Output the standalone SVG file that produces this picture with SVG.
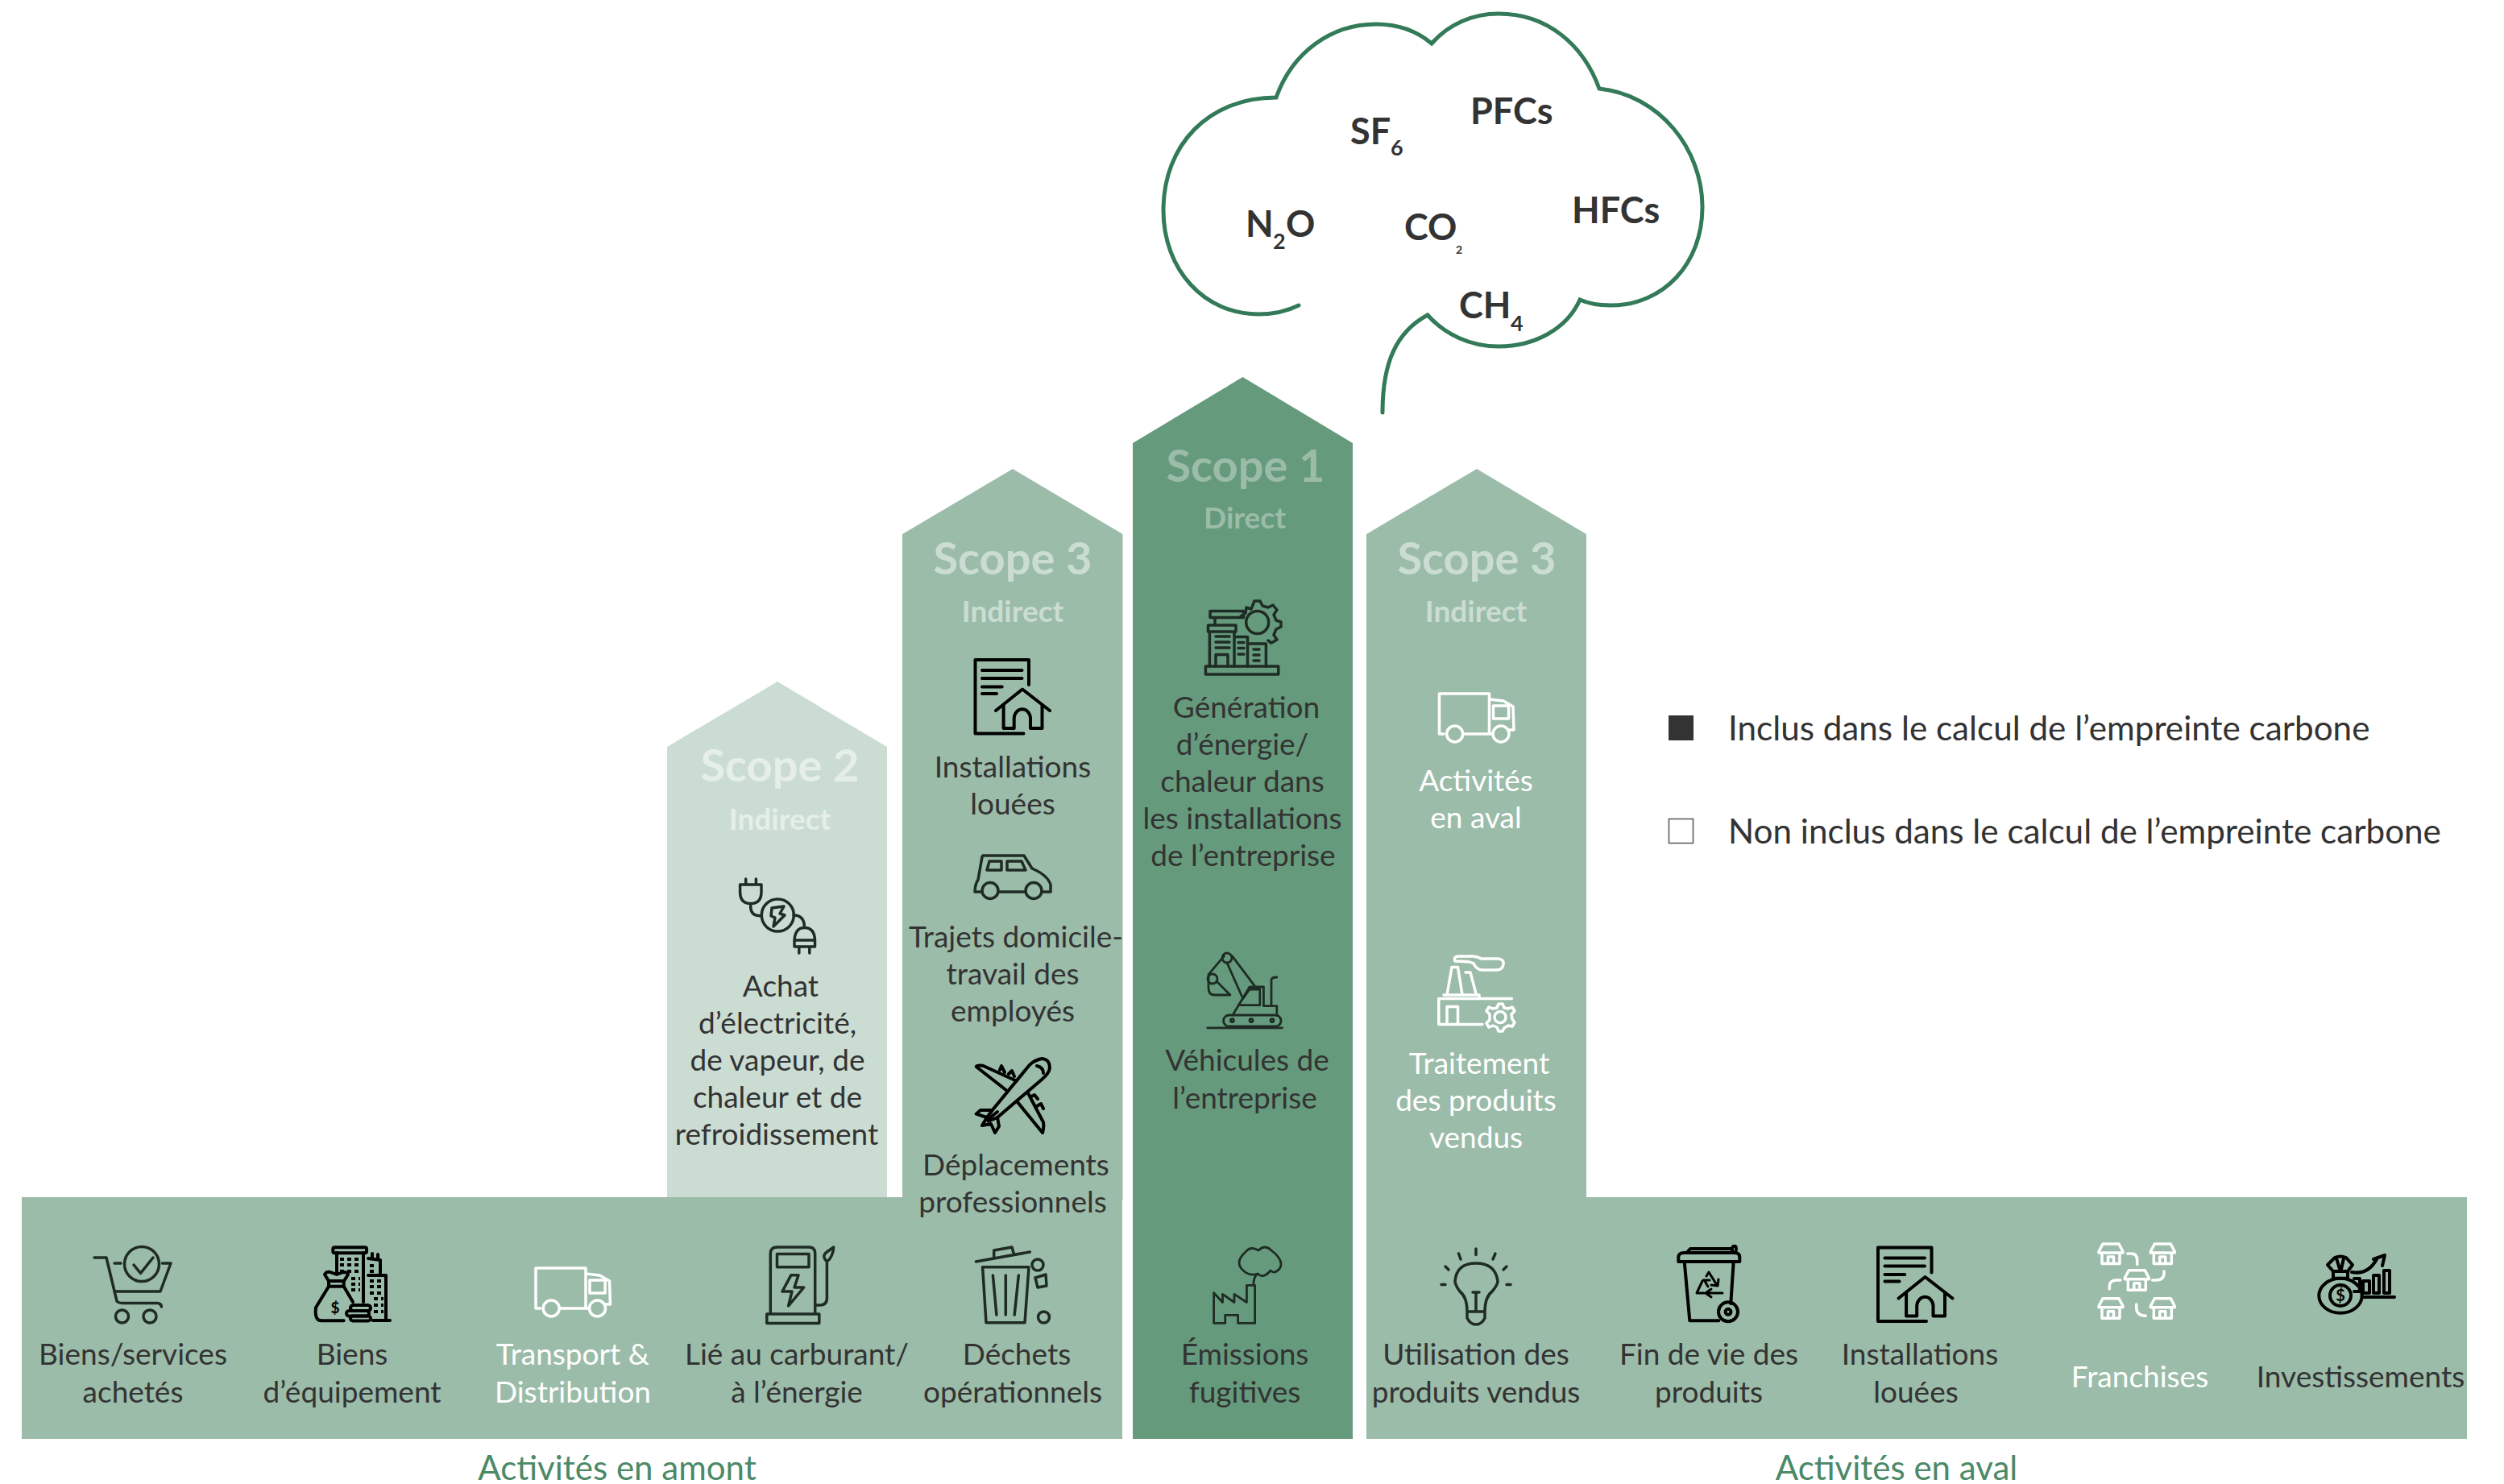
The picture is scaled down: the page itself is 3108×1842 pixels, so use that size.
<svg xmlns="http://www.w3.org/2000/svg" width="3108" height="1842" viewBox="0 0 3108 1842">
<style>
text{font-family:Lato,"Noto Sans",sans-serif}
.l{font-size:37px;fill:#333;text-anchor:middle}
.lw{font-size:37px;fill:#fff;text-anchor:middle}
.ttl{font-size:56px;font-weight:700;text-anchor:middle}
.sub{font-size:37px;font-weight:700;text-anchor:middle}
.leg{font-size:42.2px;fill:#333}
.act{font-size:42px;fill:#4b8967;text-anchor:middle}
.gas{font-size:45px;font-weight:700;fill:#333}
.s{font-size:27px;font-weight:700;fill:#333}
.i{fill:none;stroke:#1f2b25;stroke-width:3.5;stroke-linecap:round;stroke-linejoin:round}
.iw{fill:none;stroke:#fff;stroke-width:3.5;stroke-linecap:round;stroke-linejoin:round}
.thin{stroke-width:2.8}
.b{stroke:#000;stroke-width:4}
.dash{stroke-dasharray:5 4;stroke-linecap:butt}
</style>
<defs>
<g id="truck"><path d="M1792 911H1786.5V861H1848.5V911H1816M1816 911H1853M1848.5 868L1866 870L1878 877L1879 906H1873"/><path d="M1853.5 876H1872.6V892H1853.5Z"/><circle cx="1805.7" cy="911" r="10"/><circle cx="1863" cy="911" r="10"/></g>
<g id="lease"><path d="M1277 850V819H1210.5V910.5H1270.5"/><path d="M1219 832H1268.5M1219 842H1268.5M1219 852.4H1243.7M1219 861H1237"/><path d="M1236 882L1269 855.5L1303 882M1245.6 875V904H1258.7V891A10.2 12 0 0 1 1279 891V904H1293.5V875"/></g>
<g id="shop"><path d="M5 0H25L30 9.5V11H0V9.5ZM4 11V24.5H26V11M11.5 24V16H18.5V24"/></g>
</defs>

<g id="scope-2"><path d="M828 1486V927L965 846L1101 927V1486Z" fill="#cbddd3"/>
<text class="ttl" x="968" y="970" fill="#e5eee9">Scope 2</text><text class="sub" x="968" y="1030" fill="#e5eee9">Indirect</text>
<text class="l" x="969" y="1237">Achat</text><text class="l" x="965" y="1283">d’électricité,</text><text class="l" x="965" y="1329">de vapeur, de</text><text class="l" x="965" y="1375">chaleur et de</text><text class="l" x="964" y="1421">refroidissement</text>
<g class="i"><path d="M925.7 1091V1098M938.4 1091V1098M918.6 1098H945V1107Q945 1121.6 931.7 1121.6Q918.6 1121.6 918.6 1107ZM931.7 1121.6V1126Q932 1137 944.3 1136.8"/><circle cx="965.3" cy="1136" r="20"/><path d="M958 1127L973 1125L968 1134L974 1136L960 1150L962 1139L957 1137Z"/><path d="M985 1136Q998.5 1136 998.5 1151.5M986 1167H1011.5V1175H986ZM986 1167Q987 1151.5 998.5 1151.5Q1011 1151.5 1011.5 1167M991.8 1175V1183M1004.8 1175V1183"/></g>
</g>

<g id="band-left"><rect x="27" y="1486" width="1366" height="300" fill="#9bbca9"/></g>
<g id="scope-3-left"><path d="M1120 1490V663L1257 582L1393.5 663V1490Z" fill="#9bbca9"/>
<text class="ttl" x="1257" y="713" fill="#cbddd3">Scope 3</text><text class="sub" x="1257" y="772" fill="#cbddd3">Indirect</text>
<use href="#lease" class="i b"/>
<text class="l" x="1257" y="965">Installations</text><text class="l" x="1257" y="1011">louées</text>
<g class="i"><path d="M1219 1063.6L1214 1092Q1210 1098 1210 1107H1219M1239 1107H1273M1293 1107H1304V1098Q1300 1086 1281 1078L1271 1062H1220L1219 1063.6"/><circle cx="1229" cy="1105.5" r="10"/><circle cx="1283" cy="1105.5" r="10"/><path d="M1228 1069H1243V1080H1225ZM1250 1069H1268L1273 1080H1250Z"/></g>
<text class="l" x="1261" y="1176">Trajets domicile-</text><text class="l" x="1257" y="1222">travail des</text><text class="l" x="1257" y="1268">employés</text>
<g class="i b"><path d="M1293 1314Q1284 1316 1278 1321.7L1231.7 1378L1225 1387L1226.7 1391.7L1238 1387L1293 1340Q1302 1332 1302.7 1326.7Q1304 1315 1293 1314Z"/><path d="M1261.7 1341.7L1220 1322.7Q1212 1322 1211.7 1324L1250 1354M1276 1356.7L1295 1393Q1296 1400 1294 1406L1263 1368M1231.7 1378H1217L1211.7 1382.7L1225 1387L1219 1397L1230 1395L1235 1406L1240 1398L1238 1387M1287 1323Q1295 1325 1295 1332M1238 1380L1228 1388M1241 1328L1243 1323L1247 1331M1252 1333L1256 1329L1259 1336M1280 1361L1284 1359L1288 1364M1287 1373L1292 1370L1295 1376"/></g>
<text class="l" x="1261" y="1459">Déplacements</text><text class="l" x="1257" y="1505">professionnels</text>
</g>

<g id="scope-1"><path d="M1406 1786V550L1542.5 468L1679 550V1786Z" fill="#659b7c"/>
<text class="ttl" x="1546" y="598" fill="#9bbca9">Scope 1</text><text class="sub" x="1545" y="656" fill="#9bbca9">Direct</text>
<g class="i"><rect x="1496.4" y="827" width="90.4" height="10"/><circle cx="1560.7" cy="772.5" r="14"/><path d="M1540 765L1546 761L1547 754L1553 756L1557 746H1564L1567 752L1574 754L1580 751L1585 757L1581 763L1584 770L1590 772V778L1584 781L1581 788L1585 794L1578 798L1574 795M1502 758.5H1543.5V766.5H1502ZM1508 766.5V776M1499.5 776H1534V784H1499.5ZM1501.4 784V827M1532 784V827M1509 827V812.5H1524V827M1532 790.4H1548.5V827M1548.5 799H1571.4V827M1537 797.5H1544M1537 804.5H1544M1537 812H1544M1556 806H1563M1556 813H1563M1556 820H1563M1509 790H1526M1509 797H1526M1509 804H1526" /></g>
<text class="l" x="1547" y="891">Génération</text><text class="l" x="1542" y="937">d’énergie/</text><text class="l" x="1542" y="983">chaleur dans</text><text class="l" x="1542" y="1029">les installations</text><text class="l" x="1543" y="1075">de l’entreprise</text>
<g class="i thin"><rect x="1518.6" y="1260" width="71.4" height="14" rx="7"/><path d="M1498.7 1275.8H1591.4"/><circle cx="1529.4" cy="1266.6" r="2"/><circle cx="1553" cy="1266.6" r="2"/><circle cx="1579" cy="1266.6" r="2"/><path d="M1530 1260L1551 1225H1568.4V1248.7H1584.8V1260M1537 1247.7L1551 1228H1563.8V1247.7ZM1578 1248.7V1216.5Q1578 1213 1584.8 1213M1557 1223.4L1529.4 1186.7M1541.6 1237L1523 1195M1519.4 1186.7L1500 1209.6V1226Q1500 1235 1507 1235H1527L1511 1219"/><circle cx="1523" cy="1189" r="6"/><circle cx="1505" cy="1215" r="6"/></g>
<text class="l" x="1548" y="1329">Véhicules de</text><text class="l" x="1545" y="1376">l’entreprise</text>
<g class="i thin"><path d="M1506.6 1604.7V1642.4H1520.7V1632.3H1536.6V1642.4H1557.6V1595.3H1547.4V1616.5L1532 1606.4V1616.5L1517.5 1606.4V1616.5L1506.6 1604.7M1555.7 1594.6Q1556 1585 1561 1581Q1553 1584 1546 1579.4Q1530 1568 1546 1554Q1552 1546 1562 1552Q1570 1544 1578 1552Q1595 1565 1588 1575Q1582 1582 1577 1577Q1568 1588 1561 1581"/></g>
<text class="l" x="1545" y="1694">Émissions</text><text class="l" x="1545" y="1740.5">fugitives</text>
</g>

<g id="band-right"><rect x="1696" y="1486" width="1366" height="300" fill="#9bbca9"/></g>
<g id="scope-3-right"><path d="M1696 1490V663L1833 582L1969 663V1490Z" fill="#9bbca9"/>
<text class="ttl" x="1833" y="713" fill="#cbddd3">Scope 3</text><text class="sub" x="1832" y="772" fill="#cbddd3">Indirect</text>
<use href="#truck" class="iw"/>
<text class="lw" x="1832" y="982">Activités</text><text class="lw" x="1832" y="1028">en aval</text>
<g class="iw"><path d="M1796 1235L1802 1200.5H1809.5L1815 1235M1819 1207H1825L1832.5 1235M1792 1235H1836V1239.5M1876.4 1239.5H1785.8V1271.6H1840M1796 1249.6H1809.5V1271.6H1796ZM1806 1193Q1804 1187 1810 1187H1828Q1836 1188 1838 1190H1860Q1867 1191 1866 1197Q1865 1204 1857 1204H1840Q1833 1204 1829 1196Q1825 1193 1806 1193Z"/><circle cx="1862" cy="1262.5" r="7"/><path d="M1853 1252L1858 1251L1860 1246H1865L1867 1251L1872 1252L1877 1250L1880 1255L1876 1259L1877 1265L1880 1269L1877 1274L1872 1273L1867 1276L1865 1280H1860L1858 1275L1853 1273L1848 1275L1845 1270L1849 1266V1259L1845 1255L1848 1250Z"/></g>
<text class="lw" x="1836" y="1333">Traitement</text><text class="lw" x="1832" y="1379">des produits</text><text class="lw" x="1832" y="1425">vendus</text>
</g>

<g id="cloud"><path fill="none" stroke="#337a58" stroke-width="5" stroke-linecap="round" stroke-linejoin="miter" d="M1612 379C1596 387 1579 390 1562 390C1495 390 1444 335 1444 261C1444 180 1500 121 1584 121C1604 65 1652 30 1708 30C1735 30 1758 38 1777 54C1798 30 1828 17 1860 17C1920 17 1965 55 1985 110C2060 118 2113 185 2113 257C2113 327 2065 379 1999 379C1985 379 1972 377 1961 372C1945 408 1905 430 1860 430C1825 430 1793 415 1772 391C1733 412 1716 450 1716 512"/>
<text class="gas" x="1825" y="154">PFCs</text>
<text class="gas" x="1676" y="179">SF</text><text class="s" x="1726" y="193">6</text>
<text class="gas" x="1546" y="294">N</text><text class="s" x="1580" y="309">2</text><text class="gas" x="1596" y="294">O</text>
<text class="gas" x="1743" y="298">CO</text><text class="s" x="1807" y="315" style="font-size:14px">2</text>
<text class="gas" x="1951" y="277">HFCs</text>
<text class="gas" x="1811" y="395">CH</text><text class="s" x="1875" y="411">4</text>
</g>

<g id="legend">
<rect x="2071" y="888" width="31" height="31" fill="#333"/><text class="leg" x="2145" y="919">Inclus dans le calcul de l’empreinte carbone</text>
<rect x="2071.5" y="1016.5" width="30" height="30" fill="#fff" stroke="#555" stroke-width="1.5"/><text class="leg" x="2145" y="1047">Non inclus dans le calcul de l’empreinte carbone</text>
</g>

<g id="item-biens-services"><g class="i"><path d="M117 1561H132L145 1615Q147 1617.5 153 1617.5H196Q200 1618 200.5 1622M142 1568H150M201.5 1568H212L199 1603H142"/><circle cx="176" cy="1569" r="21.5"/><path d="M166 1570L174.5 1580.4L190 1561"/><circle cx="151.5" cy="1634" r="8"/><circle cx="186" cy="1634" r="8"/></g>
<text class="l" x="165" y="1694">Biens/services</text><text class="l" x="165" y="1740.5">achetés</text></g>

<g id="item-biens-equipement"><g class="i b"><rect x="413.3" y="1548.3" width="41.7" height="7" rx="2"/><path d="M418 1555V1580M451 1555V1616M457 1583H479V1639H463M463 1639H484M457 1562L472 1564V1581M462 1556V1562M469 1557V1563"/><path d="M408 1590H426.7V1596.7H408ZM408 1590L403 1582Q405 1578 410 1579L418 1582L426 1579Q432 1579 432 1582L427 1590M408 1596.7L392 1623Q390 1640 400 1639.3H426.7M426.7 1596.7L438 1616"/><rect x="435" y="1620" width="25" height="7" rx="3.5"/><rect x="430" y="1627" width="28" height="6.5" rx="3.2"/><rect x="435" y="1633.5" width="25" height="6" rx="3"/><path class="dash" d="M422 1563H447M422 1570H447M422 1578H447M436 1587H447M436 1594H447M436 1601H447M459 1590H476M459 1597H476M459 1605H476M464 1612H476M464 1620H476M464 1628H476M459 1571H468M459 1578H468"/></g>
<text x="416" y="1630" style="font-size:19px;font-weight:700;text-anchor:middle;fill:#000">$</text>
<text class="l" x="437" y="1694">Biens</text><text class="l" x="437" y="1740.5">d’équipement</text></g>

<g id="item-transport"><use href="#truck" class="iw" transform="translate(-1121.5 713)"/>
<text class="lw" x="711" y="1694">Transport &amp;</text><text class="lw" x="711" y="1740.5">Distribution</text></g>

<g id="item-carburant"><g class="i"><path d="M956.3 1631V1556Q956.3 1548 964.5 1548H1004Q1011.7 1548 1011.7 1556V1631M951.8 1631H1016.8V1642.4H951.8ZM964.5 1556.5H1004V1572.7H964.5ZM981.8 1582.8L971 1603H983L978.6 1620.8L997.7 1598H986L991 1582.8ZM1011.7 1620H1018Q1026.4 1620 1026.4 1611V1566M1026.4 1566Q1020 1560 1025 1555L1034.7 1548Q1034 1560 1026.4 1566Z"/></g>
<text class="l" x="989" y="1694">Lié au carburant/</text><text class="l" x="989" y="1740.5">à l’énergie</text></g>

<g id="item-dechets"><g class="i"><path d="M1211.4 1566L1278.3 1554M1233.7 1560V1552L1256 1548L1258 1555M1219.6 1572.7H1277L1272 1641.7H1224ZM1232.4 1583L1236.9 1632M1248.3 1583V1632M1264.3 1583L1259.2 1632M1285 1586L1298 1582L1299 1596L1288 1598Z"/><circle cx="1288" cy="1570" r="7"/><circle cx="1295.5" cy="1635" r="7"/></g>
<text class="l" x="1262" y="1694">Déchets</text><text class="l" x="1257" y="1740.5">opérationnels</text></g>

<g id="item-utilisation"><g class="i"><path d="M1821 1628Q1821 1610 1812 1603Q1806 1595 1806 1590Q1808 1568 1832 1568Q1856 1568 1859 1590Q1859 1595 1852 1603Q1843 1610 1843 1628ZM1821 1628V1636Q1825 1644 1832 1644Q1839 1644 1843 1636V1628M1832 1605V1628M1828 1604H1836M1832 1550V1557.5M1810.5 1556L1813 1563M1853 1563L1856 1556M1794 1572L1798 1576M1866 1576L1870 1572M1789 1594.6H1794M1870 1594.6H1875"/></g>
<text class="l" x="1832" y="1694">Utilisation des</text><text class="l" x="1832" y="1740.5">produits vendus</text></g>

<g id="item-fin-de-vie"><g class="i b"><path d="M2083.3 1566V1560Q2084 1555 2090 1555H2153Q2159 1555 2159.3 1560V1566ZM2093.3 1555L2098 1550H2150M2150 1555V1549Q2151 1546 2154 1547Q2156 1549 2154 1555M2090.7 1566L2097.3 1639.3H2133.3M2151.7 1566L2148.3 1618"/><circle cx="2145" cy="1628.3" r="12"/><circle cx="2145" cy="1628.3" r="3.5"/><path d="M2118 1584L2121 1579L2131 1595M2133 1588L2132 1596L2124 1595M2114 1589H2122M2113 1590L2106 1605H2115M2120 1597L2116 1590M2138 1605H2118M2124 1600L2117 1605L2124 1610" stroke-width="3"/></g>
<text class="l" x="2121" y="1694">Fin de vie des</text><text class="l" x="2121" y="1740.5">produits</text></g>

<g id="item-installations"><use href="#lease" class="i b" transform="translate(1120.5 729.5)"/>
<text class="l" x="2383" y="1694">Installations</text><text class="l" x="2378" y="1740.5">louées</text></g>

<g id="item-franchises"><g class="iw"><use href="#shop" transform="translate(2605 1544)"/><use href="#shop" transform="translate(2669.3 1544)"/><use href="#shop" transform="translate(2637.3 1576.7)"/><use href="#shop" transform="translate(2605 1611.7)"/><use href="#shop" transform="translate(2669.3 1611.7)"/><path d="M2640.7 1556H2645Q2652.7 1556 2652.7 1564V1569.5M2686 1578V1580Q2686 1589 2676 1589H2671.7M2632 1589H2627Q2618.3 1589 2618.3 1597V1600M2651.7 1619V1623Q2651.7 1633 2663.3 1633.3"/></g>
<text class="lw" x="2656" y="1722">Franchises</text></g>

<g id="item-investissements"><g class="i b"><ellipse cx="2905" cy="1608.3" rx="26.7" ry="21.5"/><circle cx="2905" cy="1608" r="13"/><path d="M2896 1578H2914V1586.7H2896ZM2896 1578L2889 1570L2898 1561Q2905 1558 2912 1561L2920 1570L2914 1578M2900 1562L2904 1575M2909 1562L2906 1575M2919 1579Q2940 1583 2951 1561M2946 1563L2960 1558L2957 1571M2922 1587H2929V1603H2922M2933 1590H2941V1605H2933ZM2946 1583H2953V1605H2946ZM2959 1577H2966V1605H2959ZM2932 1610H2972"/></g>
<text x="2905" y="1615" style="font-size:20px;font-weight:700;text-anchor:middle;fill:#000">$</text>
<text class="l" x="2930" y="1722">Investissements</text></g>

<text class="act" x="766" y="1837">Activités en amont</text>
<text class="act" x="2354" y="1837">Activités en aval</text>
</svg>
